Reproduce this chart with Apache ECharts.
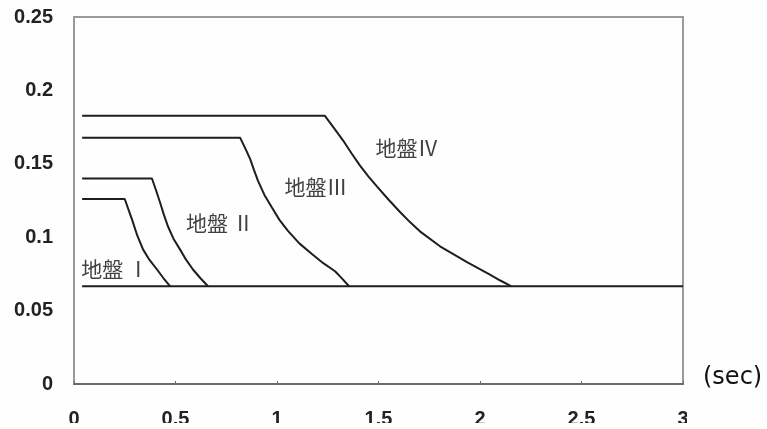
<!DOCTYPE html>
<html>
<head>
<meta charset="utf-8">
<script src="https://cdn.jsdelivr.net/npm/echarts@6/dist/echarts.min.js"></script>
<style>html,body{margin:0;padding:0;background:#fefefe;}#c{width:767px;height:429px;}</style>
</head>
<body>
<div id="c"></div>
<script>
// Period (sec) and value pairs
var groundI   = [[0.04,0.126],[0.25,0.126],[0.268,0.119],[0.286,0.112],[0.312,0.101],[0.34,0.0917],[0.372,0.0845],[0.409,0.078],[0.44,0.0722],[0.473,0.0666]];
var groundII  = [[0.04,0.140],[0.384,0.140],[0.404,0.132],[0.424,0.1236],[0.443,0.1152],[0.463,0.1073],[0.49,0.099],[0.522,0.0917],[0.552,0.0847],[0.586,0.078],[0.622,0.0722],[0.66,0.0666]];
var groundIII = [[0.04,0.1678],[0.818,0.1678],[0.842,0.161],[0.867,0.1535],[0.886,0.146],[0.906,0.1385],[0.938,0.1288],[0.975,0.1202],[1.012,0.1118],[1.054,0.1043],[1.11,0.0958],[1.172,0.0885],[1.228,0.0823],[1.286,0.0768],[1.322,0.0716],[1.355,0.0666]];
var groundIV  = [[0.04,0.1827],[1.236,0.1827],[1.28,0.1745],[1.325,0.166],[1.367,0.1572],[1.409,0.1488],[1.45,0.1415],[1.493,0.1345],[1.55,0.1255],[1.606,0.1172],[1.655,0.1103],[1.704,0.1040],[1.803,0.0938],[1.936,0.0830],[2.049,0.0745],[2.10,0.0705],[2.153,0.0666]];
var floorLine = [[0.04,0.0666],[3,0.0666]];
var labelNames = ['地盤 Ⅰ','地盤 Ⅱ','地盤Ⅲ','地盤Ⅳ'];
var labelPos   = [[0.202,0.078],[0.719,0.1094],[1.192,0.1345],[1.640,0.161]];
var xTicks = [0,0.5,1,1.5,2,2.5,3];
var yTicks = [0,0.05,0.1,0.15,0.2,0.25];

var chart = echarts.init(document.getElementById('c'), null, {renderer:'canvas'});
function lineSeries(d){
  return {type:'line', data:d, symbol:'none', smooth:false, lineStyle:{color:'#1e1e1e', width:2}, z:3};
}
var labelData = labelNames.map(function(n,i){ return {value:labelPos[i], name:n}; });
var tickFont = {fontFamily:'Liberation Sans', fontWeight:'bold', fontSize:20, color:'#222'};
chart.setOption({
  backgroundColor:'#fefefe',
  animation:false,
  grid:{left:74, top:17, right:84, bottom:44, show:true, borderColor:'#9a9a9a', borderWidth:2, backgroundColor:'transparent'},
  xAxis:{type:'value', min:xTicks[0], max:xTicks[xTicks.length-1], interval:0.5,
    axisLine:{lineStyle:{color:'#6a6a6a', width:2}},
    axisTick:{show:true, inside:true, length:3, lineStyle:{color:'#6a6a6a'}},
    splitLine:{show:false},
    axisLabel:Object.assign({margin:25}, tickFont)},
  yAxis:{type:'value', min:yTicks[0], max:yTicks[yTicks.length-1], interval:0.05,
    axisLine:{show:true, lineStyle:{color:'#9a9a9a', width:2}},
    axisTick:{show:false},
    splitLine:{show:false},
    axisLabel:Object.assign({margin:21}, tickFont)},
  series:[
    lineSeries(groundI), lineSeries(groundII), lineSeries(groundIII), lineSeries(groundIV),
    lineSeries(floorLine),
    {type:'scatter', data:labelData, symbolSize:0, z:5,
      label:{show:true, position:'inside', formatter:function(p){return p.name;},
        fontFamily:'Noto Sans CJK JP', fontSize:21, color:'#111'}}
  ],
  graphic:[
    {type:'text', left:703, top:366, z:10, style:{text:'(sec)', fontFamily:'DejaVu Sans', fontSize:24, fill:'#111'}},
    {type:'rect', shape:{x:0, y:423, width:767, height:6}, style:{fill:'#fefefe'}, z:100},
    {type:'rect', shape:{x:687, y:400, width:14, height:29}, style:{fill:'#fefefe'}, z:100}
  ]
});
</script>
</body>
</html>
